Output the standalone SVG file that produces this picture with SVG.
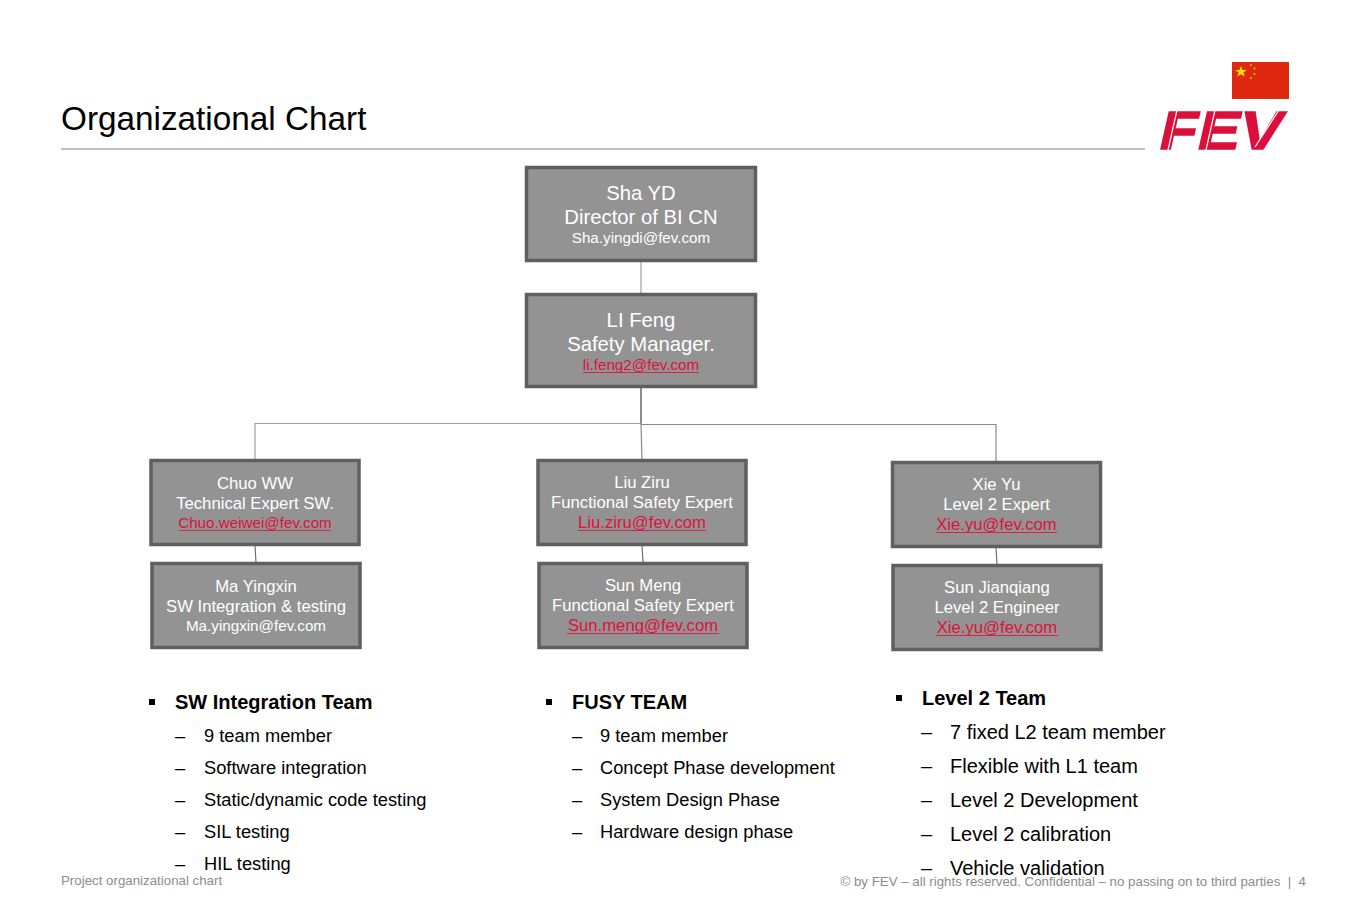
<svg xmlns="http://www.w3.org/2000/svg" width="1350" height="900" viewBox="0 0 1350 900">
<style>
text{font-family:"Liberation Sans",Arial,sans-serif}
.box{fill:#939393;stroke:#5f5f5f;stroke-width:3.5}
.n{fill:#fff;text-anchor:middle}
.r{fill:#e0103c;text-anchor:middle}
.u{stroke:#d8234f;stroke-width:1}
.a{font-size:20.3px}.b{font-size:15.2px}.c{font-size:16.700px}
.h{font-size:20px;font-weight:bold;fill:#000}
.l{font-size:18.3px;fill:#000}
.m{font-size:20px;fill:#000}
.f{font-size:13.300px;fill:#8c8c8c;white-space:pre}
.cn{fill:none;stroke:#8a8a8a;stroke-width:1.2}
</style>
<rect width="1350" height="900" fill="#fff"/>
<text x="61" y="130" font-size="33.300" fill="#000">Organizational Chart</text>
<line x1="61" y1="149" x2="1145" y2="149" stroke="#808080" stroke-width="1.2"/>
<g id="flag">
<rect x="1232" y="62" width="57" height="37" fill="#de2910"/>
<polygon points="1241,66 1242.6,70 1246.8,70 1243.4,72.6 1244.7,76.6 1241,74.2 1237.3,76.6 1238.6,72.6 1235.2,70 1239.4,70" fill="#ffde00"/>
<circle cx="1251" cy="65" r="1" fill="#ffc000"/><circle cx="1254.500" cy="68.500" r="1" fill="#ffc000"/><circle cx="1254.500" cy="74" r="1" fill="#ffc000"/><circle cx="1251" cy="78" r="1" fill="#ffc000"/>
</g>
<g id="logo">
<text x="1160" y="148.500" font-size="53" font-weight="bold" font-style="italic" fill="#dc0f3c" stroke="#dc0f3c" stroke-width="1.500" textLength="122" lengthAdjust="spacingAndGlyphs">FEV</text>
<g stroke="#fff" stroke-width="1.200">
<line x1="1168" y1="150" x2="1177" y2="110"/><line x1="1206" y1="150" x2="1215" y2="110"/><line x1="1255" y1="147" x2="1279" y2="110"/>
</g>
</g>
<g id="connectors" class="cn">
<line x1="641" y1="262" x2="641" y2="294" stroke="#a0a0a0"/>
<line x1="641" y1="387" x2="641" y2="424" stroke="#707070" stroke-width="1.6"/>
<polyline points="641,423.500 255,423.500 255,460" stroke="#a0a0a0"/>
<polyline points="641,424.500 996,424.500 996,462"/>
<line x1="641" y1="424" x2="642" y2="460"/>
<line x1="255" y1="545" x2="256" y2="563" stroke="#707070"/>
<line x1="642" y1="545" x2="643" y2="562" stroke="#707070"/>
<line x1="996" y1="547" x2="997" y2="565" stroke="#707070"/>
</g>
<g id="n1"><rect class="box" x="526.500" y="167.500" width="229" height="93"/>
<text class="n a" x="641" y="200">Sha YD</text><text class="n a" x="641" y="224">Director of BI CN</text><text class="n b" x="641" y="243">Sha.yingdi@fev.com</text></g>
<g id="n2"><rect class="box" x="526.500" y="294.500" width="229" height="92"/>
<text class="n a" x="641" y="327">LI Feng</text><text class="n a" x="641" y="351">Safety Manager.</text><text class="r b" x="641" y="370">li.feng2@fev.com</text><line class="u" x1="583" y1="372.500" x2="699" y2="372.500"/></g>
<g id="n3"><rect class="box" x="151" y="460.500" width="208" height="84"/>
<text class="n c" x="255" y="489">Chuo WW</text><text class="n c" x="255" y="509">Technical Expert SW.</text><text class="r b" x="255" y="528">Chuo.weiwei@fev.com</text><line class="u" x1="179" y1="530.500" x2="331" y2="530.500"/></g>
<g id="n4"><rect class="box" x="152" y="563.500" width="208" height="84"/>
<text class="n c" x="256" y="592">Ma Yingxin</text><text class="n c" x="256" y="612">SW Integration &amp; testing</text><text class="n b" x="256" y="631">Ma.yingxin@fev.com</text></g>
<g id="n5"><rect class="box" x="538" y="460.500" width="208" height="84"/>
<text class="n c" x="642" y="488">Liu Ziru</text><text class="n c" x="642" y="508">Functional Safety Expert</text><text class="r c" x="642" y="528">Liu.ziru@fev.com</text><line class="u" x1="578" y1="530.500" x2="706" y2="530.500"/></g>
<g id="n6"><rect class="box" x="539" y="563.500" width="208" height="84"/>
<text class="n c" x="643" y="591">Sun Meng</text><text class="n c" x="643" y="611">Functional Safety Expert</text><text class="r c" x="643" y="631">Sun.meng@fev.com</text><line class="u" x1="567" y1="633.500" x2="719" y2="633.500"/></g>
<g id="n7"><rect class="box" x="892.500" y="462.500" width="208" height="84"/>
<text class="n c" x="996.500" y="490">Xie Yu</text><text class="n c" x="996.500" y="510">Level 2 Expert</text><text class="r c" x="996.500" y="530">Xie.yu@fev.com</text><line class="u" x1="936" y1="532.500" x2="1057" y2="532.500"/></g>
<g id="n8"><rect class="box" x="893" y="565.500" width="208" height="84"/>
<text class="n c" x="997" y="593">Sun Jianqiang</text><text class="n c" x="997" y="613">Level 2 Engineer</text><text class="r c" x="997" y="633">Xie.yu@fev.com</text><line class="u" x1="936" y1="635.500" x2="1058" y2="635.500"/></g>
<g id="list1">
<rect x="149" y="699" width="6" height="6"/><text class="h" x="175" y="709">SW Integration Team</text>
<text class="l" x="175" y="742">–</text><text class="l" x="204" y="742">9 team member</text>
<text class="l" x="175" y="774">–</text><text class="l" x="204" y="774">Software integration</text>
<text class="l" x="175" y="806">–</text><text class="l" x="204" y="806">Static/dynamic code testing</text>
<text class="l" x="175" y="838">–</text><text class="l" x="204" y="838">SIL testing</text>
<text class="l" x="175" y="870">–</text><text class="l" x="204" y="870">HIL testing</text>
</g>
<g id="list2">
<rect x="546" y="699" width="6" height="6"/><text class="h" x="572" y="709">FUSY TEAM</text>
<text class="l" x="572" y="742">–</text><text class="l" x="600" y="742">9 team member</text>
<text class="l" x="572" y="774">–</text><text class="l" x="600" y="774">Concept Phase development</text>
<text class="l" x="572" y="806">–</text><text class="l" x="600" y="806">System Design Phase</text>
<text class="l" x="572" y="838">–</text><text class="l" x="600" y="838">Hardware design phase</text>
</g>
<g id="list3">
<rect x="896" y="695" width="6" height="6"/><text class="h" x="922" y="705">Level 2 Team</text>
<text class="m" x="921" y="739">–</text><text class="m" x="950" y="739">7 fixed L2 team member</text>
<text class="m" x="921" y="773">–</text><text class="m" x="950" y="773">Flexible with L1 team</text>
<text class="m" x="921" y="807">–</text><text class="m" x="950" y="807">Level 2 Development</text>
<text class="m" x="921" y="841">–</text><text class="m" x="950" y="841">Level 2 calibration</text>
<text class="m" x="921" y="875">–</text><text class="m" x="950" y="875">Vehicle validation</text>
</g>
<text class="f" x="61" y="885">Project organizational chart</text>
<text class="f" x="1306" y="886" text-anchor="end">© by FEV – all rights reserved. Confidential – no passing on to third parties  |  4</text>
</svg>
